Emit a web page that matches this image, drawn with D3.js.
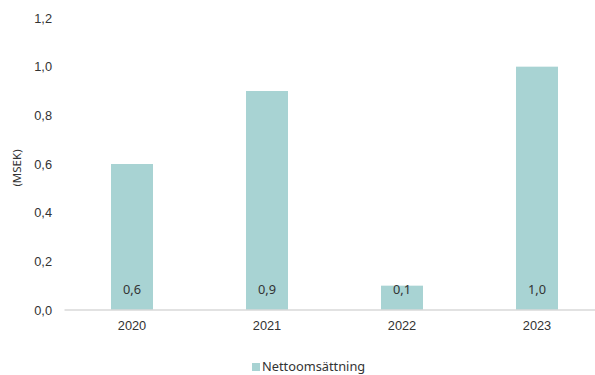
<!DOCTYPE html>
<html>
<head>
<meta charset="utf-8">
<script src="https://cdn.jsdelivr.net/npm/d3@7"></script>
<style>
  body { margin: 0; background: #fff; }
  svg { display: block; font-family: "Noto Sans", Lato, sans-serif; }
</style>
</head>
<body>
<div class="chart"></div>
<script>
// data
const years = ['2020', '2021', '2022', '2023'];
const netSales = [0.6, 0.9, 0.1, 1.0];
const yTicks = [0, 0.2, 0.4, 0.6, 0.8, 1.0, 1.2];
const seriesName = 'Nettoomsättning';
const yTitle = '(MSEK)';

const width = 595, height = 375;
const barColor = '#a8d3d3';
const textColor = '#333';
const fontSize = '12.8px';

const svg = d3.select('.chart')
  .append('svg')
  .attr('width', width)
  .attr('height', height);

// scales
const y = d3.scaleLinear()
  .domain([0, 1.2])
  .range([310, 18]);

const x = d3.scaleBand()
  .domain(years)
  .range([64.5, 604.5])
  .paddingInner(0.689)
  .paddingOuter(0.3445);

// y axis: labels only
const yAxis = d3.axisLeft(y)
  .tickValues(yTicks)
  .tickSize(0)
  .tickPadding(0)
  .tickFormat(d => d3.format('.1f')(d).replace('.', ','));

svg.append('g')
  .attr('class', 'y axis')
  .attr('transform', 'translate(52,0)')
  .call(yAxis)
  .call(g => g.select('.domain').remove())
  .selectAll('text')
  .attr('fill', textColor)
  .style('font-size', fontSize);

// bars
svg.selectAll('.bar')
  .data(netSales)
  .enter()
  .append('rect')
  .attr('class', 'bar')
  .attr('x', (d, i) => x(years[i]))
  .attr('y', d => y(d))
  .attr('width', x.bandwidth())
  .attr('height', d => y(0) - y(d))
  .attr('fill', barColor);

// baseline + x labels
const xAxis = d3.axisBottom(x).tickSize(0).tickPadding(11);
svg.append('g')
  .attr('class', 'x axis')
  .attr('transform', `translate(0,${y(0)})`)
  .call(xAxis)
  .call(g => g.select('.domain')
    .attr('stroke', '#d9d9d9')
    .attr('stroke-width', 1.5)
    .attr('d', `M64.5,0H${width}`))
  .selectAll('text')
  .attr('fill', textColor)
  .style('font-size', fontSize);

// value labels inside bars, near the base
svg.selectAll('.val')
  .data(netSales)
  .enter()
  .append('text')
  .attr('class', 'val')
  .attr('x', (d, i) => x(years[i]) + x.bandwidth() / 2)
  .attr('y', y(0) - 20)
  .attr('dy', '0.35em')
  .attr('text-anchor', 'middle')
  .attr('fill', textColor)
  .style('font-size', fontSize)
  .text(d => d3.format('.1f')(d).replace('.', ','));

// y axis title
svg.append('text')
  .attr('transform', 'translate(17,168) rotate(-90)')
  .attr('text-anchor', 'middle')
  .attr('dy', '0.35em')
  .attr('fill', textColor)
  .style('font-size', '11.5px')
  .text(yTitle);

// legend
const legend = svg.append('g').attr('transform', 'translate(252,363)');
legend.append('rect')
  .attr('width', 8)
  .attr('height', 8)
  .attr('fill', barColor);
legend.append('text')
  .attr('x', 10)
  .attr('y', 4)
  .attr('dy', '0.35em')
  .attr('fill', textColor)
  .style('font-size', fontSize)
  .text(seriesName);
</script>
</body>
</html>
